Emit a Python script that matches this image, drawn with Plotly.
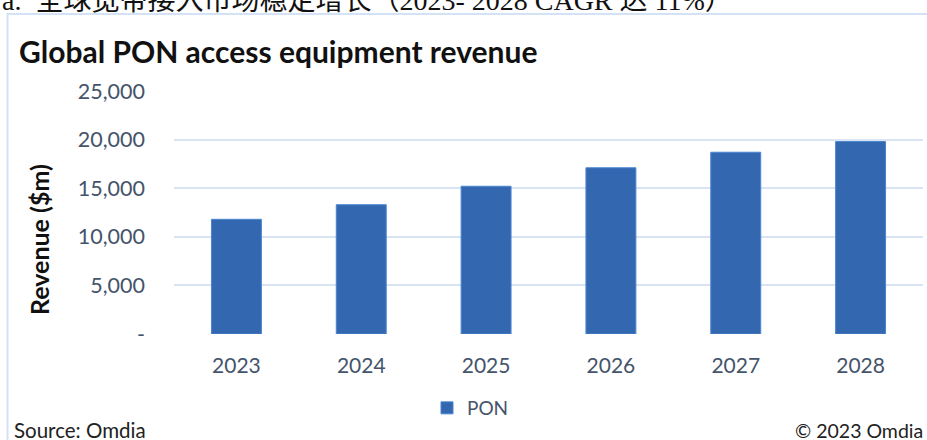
import plotly.graph_objects as go

# ---- data ----
years = ["2023", "2024", "2025", "2026", "2027", "2028"]
pon_revenue = [11800, 13300, 15200, 17100, 18700, 19800]
y_tick_vals = [0, 5000, 10000, 15000, 20000, 25000]
y_tick_text = ["-", "5,000", "10,000", "15,000", "20,000", "25,000"]

W, H = 927, 440
ML, MR, MT, MB = 174, 4, 91, 106
PW, PH = W - ML - MR, H - MT - MB


def px_x(px):
    return (px - ML) / PW


def px_y(py):
    return (H - MB - py) / PH


SLATE = "#44546A"
FONT = "Lato, Carlito, Calibri, sans-serif"

fig = go.Figure()
fig.add_trace(go.Bar(
    x=years, y=pon_revenue, name="PON",
    marker=dict(color="#3368B0", line=dict(color="#4A85D0", width=1)),
    width=0.4,
))

fig.update_layout(
    width=W, height=H,
    margin=dict(l=ML, r=MR, t=MT, b=MB, pad=0),
    paper_bgcolor="white", plot_bgcolor="white",
    font=dict(family=FONT, color=SLATE),
    showlegend=True,
    legend=dict(orientation="h", x=px_x(427), y=px_y(408), xanchor="left", yanchor="middle",
                font=dict(size=19, color=SLATE, family=FONT), bgcolor="rgba(0,0,0,0)",
                itemwidth=30),
    xaxis=dict(showgrid=False, showline=False, ticks="", tickfont=dict(size=21, color=SLATE),
               ticklabelstandoff=17),
    yaxis=dict(range=[0, 25000], tickvals=y_tick_vals, ticktext=y_tick_text,
               showgrid=True, gridcolor="#D9E4F3", gridwidth=2, zeroline=False,
               showline=False, ticks="", tickfont=dict(size=21.5, color=SLATE),
               ticklabelstandoff=28),
    bargap=0.6,
)

# outer chart border
fig.add_shape(type="rect", xref="paper", yref="paper",
              x0=px_x(7.5), x1=px_x(940), y0=px_y(14), y1=px_y(450),
              line=dict(color="#D3E2F5", width=2), fillcolor="rgba(0,0,0,0)", layer="below")

# clipped caption at top
fig.add_annotation(text="a.  全球宽带接入市场稳定增长（2023- 2028 CAGR 达 11%）",
                   xref="paper", yref="paper", x=px_x(0), y=px_y(18),
                   xanchor="left", yanchor="bottom", showarrow=False,
                   font=dict(family="Liberation Serif, Noto Sans CJK SC, serif", size=28, color="#111111"))

# chart title
fig.add_annotation(text="<b>Global PON access equipment revenue</b>",
                   xref="paper", yref="paper", x=px_x(17), y=px_y(51),
                   xanchor="left", yanchor="middle", showarrow=False,
                   font=dict(family=FONT, size=30, color="#111111"))

# y-axis title
fig.add_annotation(text="<b>Revenue ($m)</b>", textangle=-90,
                   xref="paper", yref="paper", x=px_x(39), y=px_y(240),
                   xanchor="center", yanchor="middle", showarrow=False,
                   font=dict(family=FONT, size=25, color="#111111"))

# footer
fig.add_annotation(text="Source: Omdia", xref="paper", yref="paper",
                   x=px_x(12), y=px_y(430), xanchor="left", yanchor="middle", showarrow=False,
                   font=dict(family=FONT, size=20.5, color="#222222"))
fig.add_annotation(text="© 2023 Omdia", xref="paper", yref="paper",
                   x=px_x(925), y=px_y(430), xanchor="right", yanchor="middle", showarrow=False,
                   font=dict(family=FONT, size=19.5, color="#222222"))

fig.write_html("out.html", config={"displayModeBar": False},
               post_script="document.body.style.margin='0';document.body.style.overflow='hidden';")
